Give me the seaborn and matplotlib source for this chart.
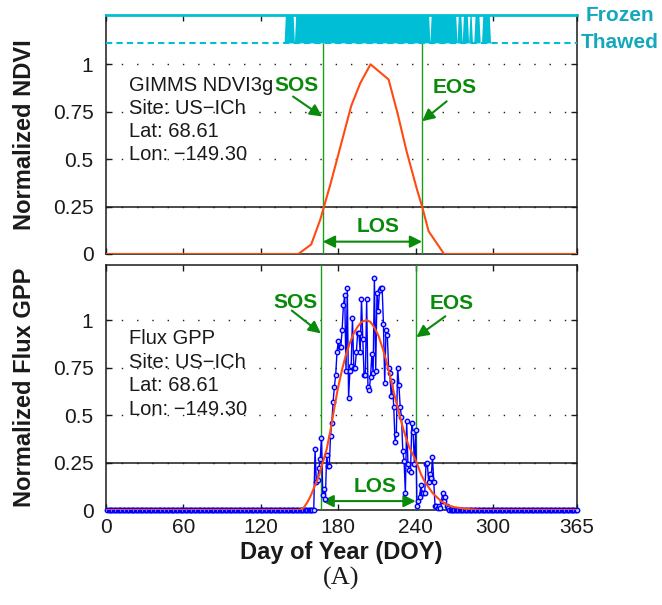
import numpy as np
import pandas as pd
import matplotlib
matplotlib.use("Agg")
import matplotlib.pyplot as plt
import matplotlib.transforms as mtransforms
import seaborn as sns

# ---------------- data ----------------
# GIMMS NDVI3g (normalized), piecewise curve
ndvi_doy = [0, 149, 159, 166, 174, 183, 190, 197, 205, 219, 226, 233, 241, 245, 250, 262, 365]
ndvi_val = [0, 0, 0.05, 0.18, 0.37, 0.60, 0.78, 0.90, 1.00, 0.92, 0.74, 0.54, 0.34, 0.25, 0.12, 0, 0]

# fitted curve through flux GPP
fit_doy = [0, 150, 153, 156, 159, 162, 165, 168, 171, 174, 177, 180, 183, 186, 189, 192, 195,
           198, 202, 205, 208, 211, 214, 217, 220, 223, 226, 229, 232, 235, 238, 241, 244,
           247, 250, 253, 256, 260, 265, 270, 280, 290, 365]
fit_val = [0, 0, 0.01, 0.04, 0.08, 0.13, 0.18, 0.25, 0.32, 0.42, 0.54, 0.65, 0.74, 0.82, 0.88,
           0.93, 0.965, 0.99, 1.0, 0.99, 0.96, 0.92, 0.86, 0.79, 0.71, 0.62, 0.54, 0.46, 0.39,
           0.33, 0.29, 0.245, 0.19, 0.15, 0.12, 0.09, 0.07, 0.045, 0.025, 0.015, 0.005, 0, 0]

# daily normalized flux GPP, growing season (DOY 162 onward); zero elsewhere
gpp_first_doy = 162
gpp_season = [0.32, 0.15, 0.16, 0.22, 0.27, 0.38, 0.08, 0.11, 0.06, 0.29,
              0.23, 0.23, 0.39, 0.46, 0.57, 0.65, 0.71, 0.83, 0.89, 0.86,
              0.86, 0.95, 1.08, 1.13, 0.73, 1.17, 0.59, 0.73, 0.76, 1.01,
              0.75, 0.75, 0.83, 0.93, 0.93, 0.83, 1.11, 0.90, 0.71, 0.71,
              1.11, 0.65, 0.63, 0.70, 0.82, 0.72, 1.22, 0.73, 1.14, 1.05,
              1.16, 1.17, 1.17, 0.98, 0.67, 0.95, 0.92, 0.75, 0.72, 0.60,
              0.68, 0.54, 0.36, 0.40, 0.75, 0.66, 0.54, 0.49, 0.31, 0.26,
              0.09, 0.47, 0.24, 0.21, 0.20, 0.46, 0.41, 0.24, 0.42, 0.02,
              0.05, 0.07, 0.13, 0.09, 0.09, 0.09, 0.24, 0.25, 0.15, 0.19,
              0.17, 0.28, 0.15, 0.02, 0.02, 0.01, 0.02, 0.01, 0.05, 0.09,
              0.05, 0.07, 0.02, 0.01]

# thawed periods (first day, last day); frozen otherwise
thaw_start = [139, 147, 252, 273, 277, 282, 286, 292]
thaw_end = [145, 250, 271, 275, 280, 283, 289, 297]

ndvi_sos, ndvi_eos = 168, 245
gpp_sos, gpp_eos = 167, 240
threshold = 0.25
FROZEN, THAWED = 1.26, 1.113

# ---------------- series ----------------
doy = np.arange(1, 366)
gpp = np.zeros(len(doy))
gpp[gpp_first_doy - 1:gpp_first_doy - 1 + len(gpp_season)] = gpp_season
thawed = np.zeros(len(doy))
for s, e in zip(thaw_start, thaw_end):
    thawed[s - 1:e] = 1
df_gpp = pd.DataFrame({"doy": doy, "gpp": gpp})
df_ndvi = pd.DataFrame({"doy": ndvi_doy, "ndvi": ndvi_val})
df_fit = pd.DataFrame({"doy": fit_doy, "fit": fit_val})

# ---------------- style ----------------
sns.set_theme(style="ticks")
plt.rcParams["font.family"] = ["Liberation Sans", "DejaVu Sans"]
plt.rcParams["axes.linewidth"] = 1.1

orange = "#ff4a12"
blue = "#0000ff"
green_txt = "#0a8a0a"
green_ln = "#1a9e1a"
cyan = "#00bed6"
cyan_txt = "#13a8bd"

fig = plt.figure(figsize=(6.62, 6.05), dpi=100)
ax1 = fig.add_axes([0.1601, 0.5802, 0.7115, 0.3950])
ax2 = fig.add_axes([0.1601, 0.1570, 0.7115, 0.4050])


def style_axes(ax, ytop):
    ax.set_xlim(0, 365)
    ax.set_ylim(0, ytop)
    ax.set_yticks([0, 0.25, 0.5, 0.75, 1])
    ax.set_yticklabels(["0", "0.25", "0.5", "0.75", "1"])
    ax.set_xticks([0, 60, 120, 180, 240, 300, 365])
    ax.tick_params(direction="in", top=True, right=True, length=4, width=1,
                   labelsize=15, color="k", labelcolor="k")
    ax.tick_params(axis="y", pad=9)
    ax.tick_params(axis="x", pad=6)
    for sp in ax.spines.values():
        sp.set_color("k")
    ax.yaxis.grid(True, linestyle=(0, (1, 10)), color="k", lw=1.0)
    ax.xaxis.grid(False)
    ax.axhline(threshold, color="k", lw=1.1, zorder=2)


# ---------------- top panel: NDVI ----------------
style_axes(ax1, FROZEN)
ax1.set_xticklabels([])
ax1.spines["top"].set_color(cyan)
ax1.spines["top"].set_linewidth(2)
ax1.vlines([ndvi_sos, ndvi_eos], 0, THAWED, color=green_ln, lw=1.0, zorder=3)
sns.lineplot(data=df_ndvi, x="doy", y="ndvi", ax=ax1, color=orange, lw=1.5, zorder=4)
ax1.axhline(THAWED, color=cyan, lw=1.5, ls=(0, (3, 2)), zorder=5)
ax1.fill_between(doy, THAWED, THAWED + (FROZEN - THAWED) * thawed, color=cyan, lw=0, zorder=5)
trans = mtransforms.blended_transform_factory(ax1.transAxes, ax1.transData)
ax1.text(1.091, FROZEN, "Frozen", transform=trans, ha="center", va="center",
         color=cyan_txt, fontsize=15, fontweight="bold")
ax1.text(1.091, THAWED, "Thawed", transform=trans, ha="center", va="center",
         color=cyan_txt, fontsize=15, fontweight="bold")

for i, line in enumerate(["GIMMS NDVI3g", "Site: US\u2212ICh", "Lat: 68.61", "Lon: \u2212149.30"]):
    ax1.text(18, 0.857 - 0.12 * i, line, fontsize=14.5, color="k", va="baseline")

ax1.text(147.8, 0.857, "SOS", color=green_txt, fontsize=15, fontweight="bold",
         ha="center", va="baseline")
ax1.text(270, 0.85, "EOS", color=green_txt, fontsize=15, fontweight="bold",
         ha="center", va="baseline")
ax1.text(211, 0.118, "LOS", color=green_txt, fontsize=15, fontweight="bold",
         ha="center", va="baseline")
arrow = dict(arrowstyle="-|>", color=green_txt, lw=1.5, mutation_scale=18, shrinkA=0, shrinkB=0)
darrow = dict(arrowstyle="<|-|>", color=green_txt, lw=1.5, mutation_scale=18, shrinkA=0, shrinkB=0)
ax1.annotate("", xy=(167.5, 0.725), xytext=(145, 0.83), arrowprops=arrow)
ax1.annotate("", xy=(245, 0.70), xytext=(264, 0.805), arrowprops=arrow)
ax1.annotate("", xy=(245, 0.065), xytext=(168, 0.065), arrowprops=darrow)
ax1.set_xlabel("")
ax1.set_ylabel("Normalized NDVI", fontsize=17, fontweight="bold", color="k")
ax1.yaxis.set_label_coords(-0.148, 0.5)

# ---------------- bottom panel: flux GPP ----------------
style_axes(ax2, 1.29)
ax2.axvline(gpp_sos, color=green_ln, lw=1.0, zorder=3)
ax2.axvline(gpp_eos, color=green_ln, lw=1.0, zorder=3)
sns.lineplot(data=df_gpp, x="doy", y="gpp", ax=ax2, color=blue, lw=1.0, marker="o",
             markersize=3.2, markerfacecolor="#d0d0ff", markeredgecolor=blue,
             markeredgewidth=1.0, zorder=4, clip_on=False)
sns.lineplot(data=df_fit, x="doy", y="fit", ax=ax2, color=orange, lw=1.5, zorder=5)

for i, line in enumerate(["Flux GPP", "Site: US\u2212ICh", "Lat: 68.61", "Lon: \u2212149.30"]):
    ax2.text(18, 0.872 - 0.124 * i, line, fontsize=14.5, color="k", va="baseline")

ax2.text(146.7, 1.065, "SOS", color=green_txt, fontsize=15, fontweight="bold",
         ha="center", va="baseline")
ax2.text(267.7, 1.06, "EOS", color=green_txt, fontsize=15, fontweight="bold",
         ha="center", va="baseline")
ax2.text(208.2, 0.096, "LOS", color=green_txt, fontsize=15, fontweight="bold",
         ha="center", va="baseline")
ax2.annotate("", xy=(166.5, 0.93), xytext=(144, 1.05), arrowprops=arrow)
ax2.annotate("", xy=(240.5, 0.91), xytext=(263, 1.02), arrowprops=arrow)
ax2.annotate("", xy=(240, 0.047), xytext=(167, 0.047), arrowprops=darrow)

ax2.set_ylabel("Normalized Flux GPP", fontsize=17, fontweight="bold", color="k")
ax2.yaxis.set_label_coords(-0.148, 0.5)
ax2.set_xlabel("Day of Year (DOY)", fontsize=17, fontweight="bold", color="k")
ax2.xaxis.set_label_coords(0.5, -0.125)

fig.text(341.5 / 662, 1 - 578 / 605, "(A)", ha="center", va="center", fontsize=19,
         family=["Liberation Serif", "DejaVu Serif"], color="k")

fig.savefig("out.png", dpi=100)
